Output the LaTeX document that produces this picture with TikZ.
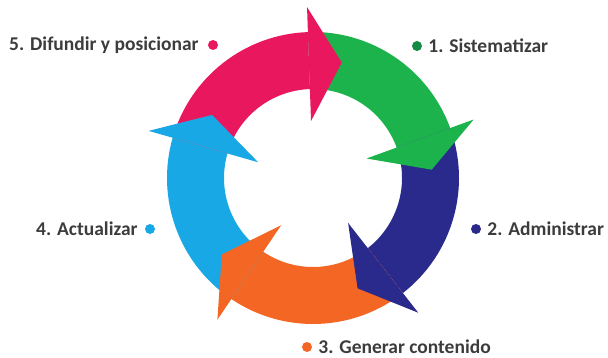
\documentclass[tikz,border=0pt]{standalone}
\usepackage{fontspec}
\setmainfont{Carlito}
\usetikzlibrary{positioning}
\definecolor{cycPink}{RGB}{233,24,94}
\definecolor{cycGreen}{RGB}{28,178,76}
\definecolor{cycNavy}{RGB}{42,42,140}
\definecolor{cycOrange}{RGB}{243,102,36}
\definecolor{cycSky}{RGB}{24,168,229}
\definecolor{cycDotGreen}{RGB}{22,138,70}
\definecolor{cycText}{RGB}{60,60,60}
\tikzset{
  steplabel/.style={font=\fontsize{19.5}{22}\selectfont\bfseries, text=cycText, inner sep=0pt},
  stepdot/.style={circle, fill=#1, inner sep=0pt, minimum size=10pt},
}

\begin{document}
\begin{tikzpicture}[x=1pt,y=1pt]

  \useasboundingbox (0,0) rectangle (608,358);

  \begin{scope}[shift={(313,180)}]
    % ring pieces, then the heads on top
    \foreach \col/\a in {cycGreen/20, cycNavy/-52, cycOrange/-124, cycSky/164, cycPink/92}{
      \pgfmathsetmacro{\b}{\a+72}
      \fill[\col] (\b:146) arc[start angle=\b, end angle=\a, radius=146]
        -- (\a:89) arc[start angle=\a, end angle=\b, radius=89] -- cycle;
    }
    \foreach \col/\a in {cycGreen/20, cycNavy/-52, cycOrange/-124, cycSky/164, cycPink/92}{
      \pgfmathsetmacro{\t}{\a-16}
      \fill[\col] (\a:57) -- (\a:171) -- (\t:119) -- cycle;
    }
  \end{scope}

  \node[stepdot=cycDotGreen] (dot1) at (417,312) {};
  \node[steplabel, right=6pt of dot1] (lab1) {1. Sistematizar};

  \node[stepdot=cycNavy] (dot2) at (476,129) {};
  \node[steplabel, right=6pt of dot2] (lab2) {2. Administrar};

  \node[stepdot=cycOrange] (dot3) at (307,11) {};
  \node[steplabel, right=6pt of dot3] (lab3) {3. Generar contenido};

  \node[stepdot=cycSky] (dot4) at (150,129) {};
  \node[steplabel, left=7pt of dot4] (lab4) {4. Actualizar};

  \node[stepdot=cycPink] (dot5) at (213,313) {};
  \node[steplabel, left=9pt of dot5] (lab5) {5. Difundir y posicionar};

\end{tikzpicture}
\end{document}
